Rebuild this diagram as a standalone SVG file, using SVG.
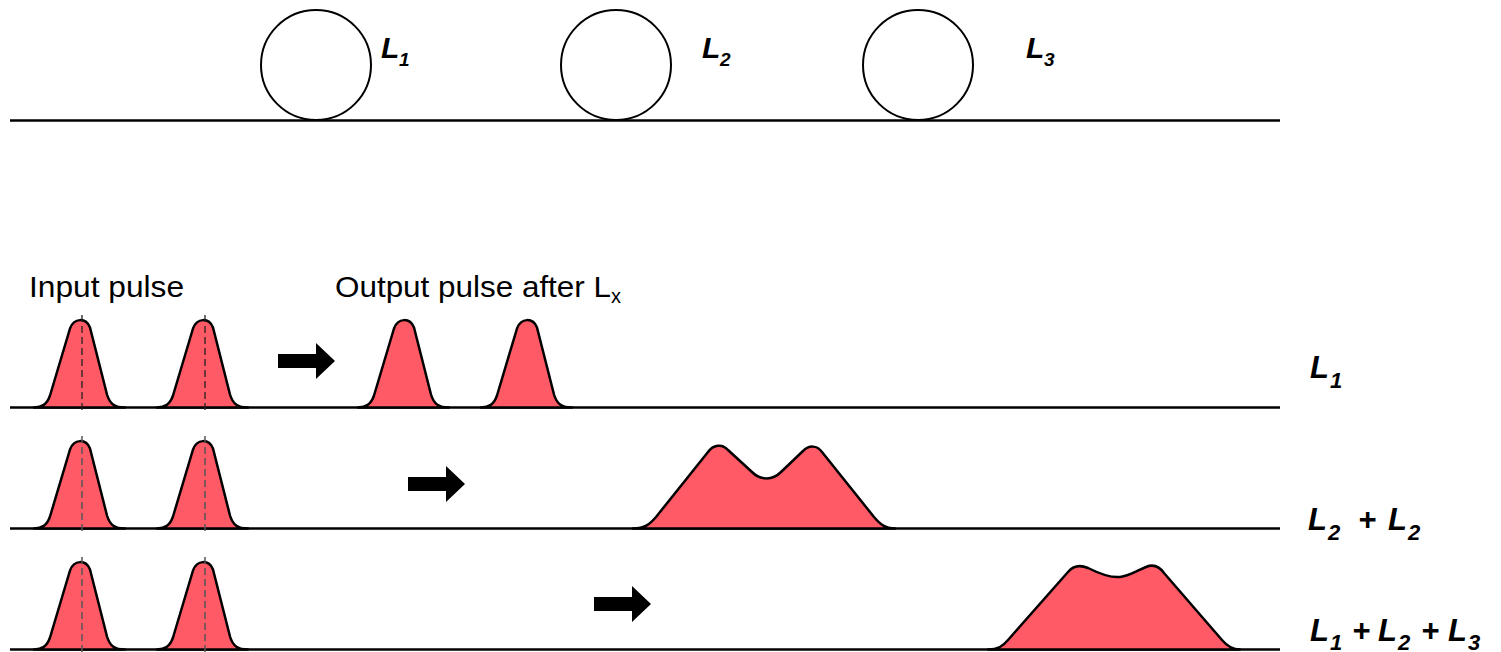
<svg xmlns="http://www.w3.org/2000/svg" xmlns:xlink="http://www.w3.org/1999/xlink" width="1501" height="652" viewBox="0 0 1501 652">
<style>
.wire{stroke:#000;stroke-width:2.5;fill:none}
.ring{stroke:#000;stroke-width:2;fill:#fff}
.pulse{fill:#FF5A66;stroke:#000;stroke-width:2.5;stroke-linejoin:round}
.dash1{stroke:#222;stroke-width:1.3;stroke-dasharray:7,4;fill:none}
.dash2{stroke:#555;stroke-width:1.5;stroke-dasharray:7,4;fill:none}
.lbl{font-family:"Liberation Sans",Arial,sans-serif;font-weight:bold;font-style:italic;fill:#000}
.txt{font-family:"Liberation Sans",Arial,sans-serif;font-size:29px;fill:#000}
.arrow{fill:#000}
</style>
<defs>
<path id="arr" d="M0,-7 H38 V-18 L57,0 L38,18 V7 H0 Z"/>
<path id="pl" d="M-48,0 C-40,0 -35,-3 -32,-12 L-12,-79 C-8,-90 4,-90 8,-80 L25,-13 C28,-3 33,0 43,0 Z"/>
</defs>

<g id="waveguide">
<line class="wire" x1="10" y1="120.5" x2="1280" y2="120.5"/>
</g>
<g id="ring1">
<circle class="ring" cx="316" cy="65" r="55"/>
<text class="lbl" font-size="30" y="58"><tspan x="381">L</tspan><tspan x="399" font-size="19" dy="8">1</tspan></text>
</g>
<g id="ring2">
<circle class="ring" cx="616" cy="65" r="55"/>
<text class="lbl" font-size="30" y="58"><tspan x="702">L</tspan><tspan x="720" font-size="19" dy="8">2</tspan></text>
</g>
<g id="ring3">
<circle class="ring" cx="918" cy="65" r="55"/>
<text class="lbl" font-size="30" y="58"><tspan x="1026">L</tspan><tspan x="1044" font-size="19" dy="8">3</tspan></text>
</g>

<g id="headings">
<text class="txt" x="29" y="297" textLength="155" lengthAdjust="spacingAndGlyphs">Input pulse</text>
<text class="txt" x="335" y="297"><tspan textLength="276" lengthAdjust="spacingAndGlyphs">Output pulse after L</tspan><tspan x="611" dy="6" font-size="20">x</tspan></text>
</g>

<g id="row1">
<line class="wire" x1="10" y1="407.5" x2="1280" y2="407.5"/>
<use xlink:href="#pl" href="#pl" class="pulse" transform="translate(82,407.5)"/>
<use xlink:href="#pl" href="#pl" class="pulse" transform="translate(205,407.5)"/>
<line class="dash1" x1="82" y1="315" x2="82" y2="412"/>
<line class="dash1" x1="205" y1="315" x2="205" y2="412"/>
<use xlink:href="#pl" href="#pl" class="pulse" transform="translate(406,407.5)"/>
<use xlink:href="#pl" href="#pl" class="pulse" transform="translate(529,407.5)"/>
<text class="lbl" font-size="31" y="378"><tspan x="1310">L</tspan><tspan x="1330" font-size="22" dy="10">1</tspan></text>
</g>

<g id="row2">
<line class="wire" x1="10" y1="528.5" x2="1280" y2="528.5"/>
<use xlink:href="#pl" href="#pl" class="pulse" transform="translate(82,528.5)"/>
<use xlink:href="#pl" href="#pl" class="pulse" transform="translate(205,528.5)"/>
<line class="dash2" x1="82" y1="436" x2="82" y2="533"/>
<line class="dash2" x1="205" y1="436" x2="205" y2="533"/>
<path class="pulse" d="M633,528.5 C645,528.5 650,524 656,517 L708,452 C713,445 722,443 728,450 L752,472 C760,480 772,481 781,472 L803,451 C809,445 817,445 822,452 L874,517 C880,524 885,528.5 895,528.5 Z"/>
<text class="lbl" y="530" font-size="31"><tspan x="1308">L</tspan><tspan x="1328" font-size="22" dy="10">2</tspan><tspan x="1358" dy="-10">+</tspan><tspan x="1388">L</tspan><tspan x="1408" font-size="22" dy="10">2</tspan></text>
</g>

<g id="row3">
<line class="wire" x1="10" y1="649.5" x2="1280" y2="649.5"/>
<use xlink:href="#pl" href="#pl" class="pulse" transform="translate(82,649.5)"/>
<use xlink:href="#pl" href="#pl" class="pulse" transform="translate(205,649.5)"/>
<line class="dash2" x1="82" y1="557" x2="82" y2="652"/>
<line class="dash2" x1="205" y1="557" x2="205" y2="652"/>
<path class="pulse" d="M988,649.5 C998,649.5 1003,646 1008,640 L1068,572 C1074,565 1081,565 1088,568 C1100,574 1110,578 1120,577 C1130,576 1138,570 1146,567 C1153,564 1159,566 1164,573 L1222,640 C1227,646 1232,649.5 1240,649.5 Z"/>
<text class="lbl" y="641" font-size="31"><tspan x="1310">L</tspan><tspan x="1330" font-size="22" dy="9">1</tspan><tspan x="1352" dy="-9">+</tspan><tspan x="1378">L</tspan><tspan x="1398" font-size="22" dy="9">2</tspan><tspan x="1421" dy="-9">+</tspan><tspan x="1448">L</tspan><tspan x="1468" font-size="22" dy="9">3</tspan></text>
</g>

<g id="connectors">
<use xlink:href="#arr" href="#arr" class="arrow" transform="translate(278,361)"/>
<use xlink:href="#arr" href="#arr" class="arrow" transform="translate(408,484)"/>
<use xlink:href="#arr" href="#arr" class="arrow" transform="translate(594,604)"/>
</g>
</svg>
